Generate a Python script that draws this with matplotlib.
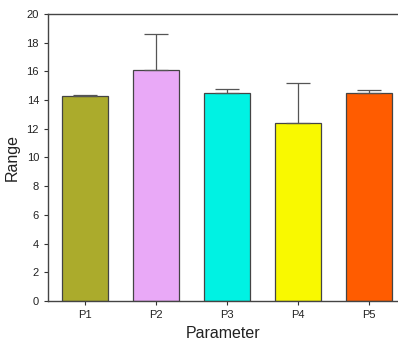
import matplotlib
matplotlib.use('Agg')
import matplotlib.pyplot as plt
import numpy as np

plt.rcParams['font.family'] = ['Liberation Sans', 'DejaVu Sans']

# data
params = ['P1', 'P2', 'P3', 'P4', 'P5']
means = [14.3, 16.1, 14.5, 12.4, 14.5]
errs = [0.07, 2.5, 0.25, 2.8, 0.18]
colors = ['#ABAB2C', '#E9A9F7', '#00F2E3', '#F9F900', '#FF5C00']

fig = plt.figure(figsize=(3.98, 3.42), dpi=100)
ax = fig.add_axes([0.1206, 0.1199, 0.8794, 0.8392])

x = np.arange(len(params))
ax.bar(x, means, width=0.64, color=colors, edgecolor='#444444', linewidth=0.9,
       yerr=[np.zeros(len(errs)), errs], capsize=8.5,
       error_kw=dict(ecolor='#555555', elinewidth=0.9, capthick=0.9))

ax.set_xlim(-0.52, 4.41)
ax.set_ylim(0, 20)
ax.set_yticks(range(0, 21, 2))
ax.set_xticks(x)
ax.set_xticklabels(params)
ax.tick_params(labelsize=8, length=3, color='#333333', labelcolor='#222222')
ax.set_xlabel('Parameter', fontsize=11.5, labelpad=4, color='#222222')
ax.set_ylabel('Range', fontsize=11.5, labelpad=5, color='#222222')
ax.spines['right'].set_visible(False)
for s in ['left', 'top', 'bottom']:
    ax.spines[s].set_color('#444444')
    ax.spines[s].set_linewidth(1.0)

fig.savefig('out.png', dpi=100)
